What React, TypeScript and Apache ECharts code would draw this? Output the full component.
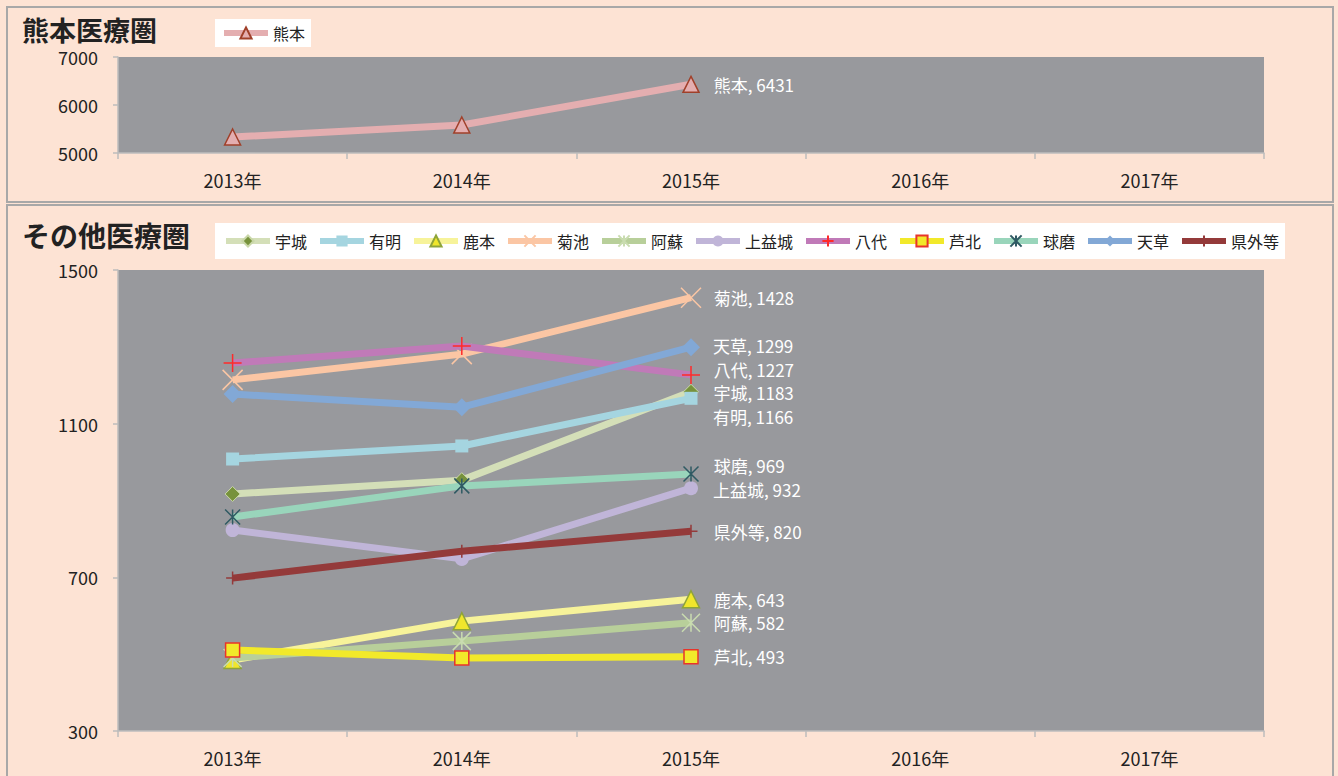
import React, { useEffect, useRef } from "react";
import * as echarts from "echarts";

const years = ["2013年", "2014年", "2015年", "2016年", "2017年"];
const kumamotoValues = [5333, 5583, 6431];

const seriesNames = ["宇城", "有明", "鹿本", "菊池", "阿蘇", "上益城", "八代", "芦北", "球磨", "天草", "県外等"];
const ukiValues = [917, 953, 1183];
const ariakeValues = [1008, 1042, 1166];
const kamotoValues = [485, 586, 643];
const kikuchiValues = [1214, 1281, 1428];
const asoValues = [490, 534, 582];
const kamimashikiValues = [823, 748, 932];
const yatsushiroValues = [1258, 1302, 1227];
const ashikitaValues = [511, 490, 493];
const kumaValues = [857, 938, 969];
const amakusaValues = [1177, 1143, 1299];
const kengaiValues = [698, 768, 820];

const topTicks = [5000, 6000, 7000];
const bottomTicks = [300, 700, 1100, 1500];

const JP = '"Noto Sans CJK JP", "Noto Sans", sans-serif';
const PEACH = "#fde3d4";
const PLOT = "#98999d";

const X_PATH = "path://M0 0L10 10M10 0L0 10";
const PLUS_PATH = "path://M5 0L5 10M0 5L10 5";
const AST_PATH = "path://M0 0L10 10M10 0L0 10M5 0L5 10";

type Style = {
  line: string;
  symbol: string;
  size: number;
  fill: string;
  border: string;
  bw: number;
  dy?: number;
};

const styles: Style[] = [
  { line: "#d4dfb8", symbol: "diamond", size: 15, fill: "#77923c", border: "#c9d7a8", bw: 1, dy: 1 },
  { line: "#a5d5e0", symbol: "rect", size: 13, fill: "#a5d5e0", border: "#a5d5e0", bw: 0, dy: 18 },
  { line: "#f7f39a", symbol: "triangle", size: 17, fill: "#f0e62c", border: "#8ea43a", bw: 1.5 },
  { line: "#fbc6a4", symbol: X_PATH, size: 20, fill: "none", border: "#fbc6a4", bw: 1.5 },
  { line: "#b8cf9a", symbol: AST_PATH, size: 18, fill: "none", border: "#c9dcb0", bw: 1.5 },
  { line: "#c0b5d8", symbol: "circle", size: 14, fill: "#c0b5d8", border: "#c0b5d8", bw: 0, dy: 1 },
  { line: "#c07ab8", symbol: PLUS_PATH, size: 18, fill: "none", border: "#ff2a2a", bw: 1.5, dy: -5 },
  { line: "#f2e92a", symbol: "rect", size: 14, fill: "#f2e92a", border: "#e8342a", bw: 1.5 },
  { line: "#99d5bb", symbol: AST_PATH, size: 15, fill: "none", border: "#2f5a63", bw: 1.5, dy: -8 },
  { line: "#82a8d6", symbol: "diamond", size: 18, fill: "#82a8d6", border: "#82a8d6", bw: 0, dy: -2 },
  { line: "#943a3a", symbol: PLUS_PATH, size: 13, fill: "none", border: "#943a3a", bw: 1.5 },
];

const bottomValues = [
  ukiValues,
  ariakeValues,
  kamotoValues,
  kikuchiValues,
  asoValues,
  kamimashikiValues,
  yatsushiroValues,
  ashikitaValues,
  kumaValues,
  amakusaValues,
  kengaiValues,
];

function withLastLabel(values: number[], size: number, dy = 0) {
  return values.map((v, i) =>
    i === values.length - 1
      ? {
          value: v,
          label: {
            show: true,
            position: "right",
            distance: 22 - size / 2,
            offset: [0, dy],
            formatter: "{a}, {c}",
            color: "#ffffff",
            fontSize: 17,
            lineHeight: 19,
            fontFamily: JP,
          },
        }
      : v
  );
}

export default function App() {
  const ref = useRef<HTMLDivElement>(null);

  useEffect(() => {
    if (!ref.current) return;
    const chart = echarts.init(ref.current, null, { renderer: "svg" });

    const axisLabelStyle = { color: "#222", fontSize: 18, fontFamily: JP };
    const axisLineStyle = { lineStyle: { color: "#bdbdbd", width: 1.5 } };
    const plain = (v: number) => String(v);

    const xAxisBase = (gridIndex: number) => ({
      type: "category",
      gridIndex,
      data: years,
      boundaryGap: true,
      axisLine: axisLineStyle,
      axisTick: { show: true, length: 6, lineStyle: { color: "#bdbdbd", width: 1.5 } },
      axisLabel: { ...axisLabelStyle, margin: 18 },
      splitLine: { show: false },
    });

    const series: any[] = [
      {
        name: "熊本",
        type: "line",
        xAxisIndex: 0,
        yAxisIndex: 0,
        data: withLastLabel(kumamotoValues, 16),
        symbol: "triangle",
        symbolSize: 16,
        lineStyle: { color: "#e4aeb0", width: 7 },
        itemStyle: { color: "#e4aeb0", borderColor: "#a0402a", borderWidth: 1.5 },
        emphasis: { disabled: true },
        z: 3,
      },
      ...seriesNames.map((name, idx) => {
        const s = styles[idx];
        return {
          name,
          type: "line",
          xAxisIndex: 1,
          yAxisIndex: 1,
          data: withLastLabel(bottomValues[idx], s.size, s.dy || 0),
          symbol: s.symbol,
          symbolSize: s.size,
          showAllSymbol: true,
          lineStyle: { color: s.line, width: 7 },
          itemStyle: {
            color: s.fill === "none" ? "rgba(0,0,0,0)" : s.fill,
            borderColor: s.border,
            borderWidth: s.bw,
          },
          emphasis: { disabled: true },
          z: 3 + idx,
        };
      }),
    ];

    const legendCommon = {
      itemWidth: 44,
      itemHeight: 14,
      lineStyle: { width: 6 },
      textStyle: { color: "#222", fontSize: 16, fontFamily: JP },
      backgroundColor: "#ffffff",
    };

    chart.setOption({
      animation: false,
      backgroundColor: PEACH,
      graphic: [
        {
          type: "rect",
          shape: { x: 7, y: 7, width: 1326, height: 195 },
          style: { fill: PEACH, stroke: "#a8a8a8", lineWidth: 2 },
          z: -10,
        },
        {
          type: "rect",
          shape: { x: 7, y: 205, width: 1326, height: 590 },
          style: { fill: PEACH, stroke: "#a8a8a8", lineWidth: 2 },
          z: -10,
        },
        {
          type: "text",
          x: 22,
          y: 16,
          style: { text: "熊本医療圏", fontSize: 27, lineHeight: 27, fontWeight: "bold", fontFamily: JP, fill: "#222" },
        },
        {
          type: "text",
          x: 22,
          y: 220,
          style: { text: "その他医療圏", fontSize: 28, lineHeight: 29, fontWeight: "bold", fontFamily: JP, fill: "#222" },
        },
      ],
      grid: [
        {
          left: 118,
          top: 57,
          width: 1146,
          height: 96,
          show: true,
          backgroundColor: PLOT,
          borderWidth: 0,
          containLabel: false,
        },
        {
          left: 118,
          top: 270,
          width: 1146,
          height: 461,
          show: true,
          backgroundColor: PLOT,
          borderWidth: 0,
          containLabel: false,
        },
      ],
      legend: [
        {
          ...legendCommon,
          data: ["熊本"],
          left: 215,
          top: 19,
          padding: [6, 6, 6, 6],
          itemGap: 10,
        },
        {
          ...legendCommon,
          data: seriesNames,
          left: 215,
          top: 223,
          padding: [10, 6, 10, 8],
          itemGap: 10,
        },
      ],
      xAxis: [xAxisBase(0), xAxisBase(1)],
      yAxis: [
        {
          type: "value",
          gridIndex: 0,
          min: 5000,
          max: 7000,
          interval: 1000,
          axisLine: { show: true, ...axisLineStyle },
          axisTick: { show: true, length: 5, lineStyle: { color: "#bdbdbd", width: 1.5 } },
          axisLabel: { ...axisLabelStyle, margin: 20, lineHeight: 18, customValues: topTicks, formatter: plain },
          splitLine: { show: false },
        },
        {
          type: "value",
          gridIndex: 1,
          min: 300,
          max: 1500,
          axisLine: { show: true, ...axisLineStyle },
          axisTick: {
            show: true,
            length: 5,
            lineStyle: { color: "#bdbdbd", width: 1.5 },
            customValues: bottomTicks,
          },
          axisLabel: { ...axisLabelStyle, margin: 20, customValues: bottomTicks, formatter: plain },
          splitLine: { show: false },
        },
      ],
      series,
    });

    return () => chart.dispose();
  }, []);

  return (
    <div
      ref={ref}
      style={{ position: "fixed", left: 0, top: 0, width: 1338, height: 776 }}
    />
  );
}
